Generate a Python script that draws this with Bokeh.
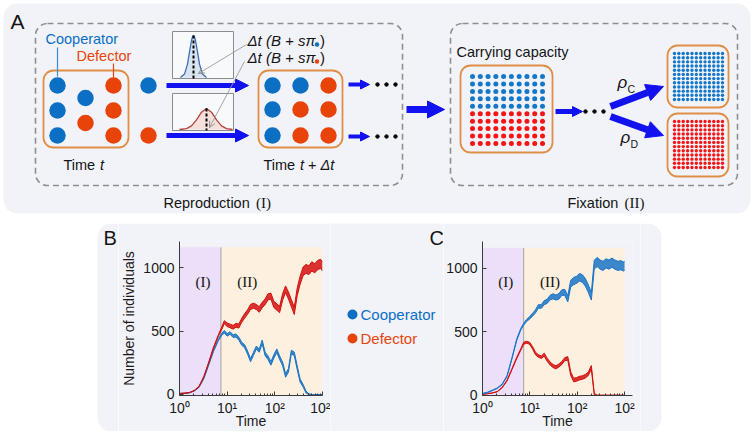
import re
import numpy as np
from bokeh.plotting import figure
from bokeh.layouts import column, row
from bokeh.models import Range1d, Arrow, NormalHead, OpenHead, FixedTicker
from bokeh.core.properties import value
from bokeh.embed import file_html
from bokeh.resources import INLINE

# ---------------- data ----------------
# Panel B
time_b = [1.0, 1.26, 1.6, 2.02, 2.56, 3.24, 4.09, 5.18, 6.55, 7.55, 8.69, 10.0, 11.5, 13.3, 15.3,
          17.6, 20.2, 23.3, 26.8, 30.9, 35.6, 40.9, 47.1, 54.3, 62.5, 71.9, 82.8, 95.4, 110, 126,
          146, 168, 193, 222, 256, 295, 339, 391, 450, 518, 597, 687, 791, 911, 1000]
defectors_b = [8, 10, 15, 30, 62, 140, 250, 370, 465, 515, 570, 550, 540, 530, 545, 540, 585, 620,
               650, 690, 700, 690, 670, 705, 730, 770, 775, 710, 690, 670, 770, 830, 780, 720, 660,
               810, 900, 970, 990, 980, 1010, 995, 1020, 1030, 1010]
defectors_b_spread = [0, 0, 0, 1, 2, 3, 4, 5, 6, 10, 12, 14, 14, 15, 15, 16, 16, 18, 18, 20, 20, 20,
                      22, 22, 22, 24, 24, 24, 25, 25, 26, 26, 28, 28, 30, 30, 32, 34, 35, 35, 36, 36,
                      36, 36, 36]
cooperators_b = [8, 9, 13, 27, 57, 128, 235, 345, 430, 470, 495, 470, 485, 460, 465, 440, 400, 380,
                 330, 270, 320, 370, 345, 415, 320, 290, 245, 300, 345, 290, 240, 150, 190, 335, 320,
                 210, 110, 70, 20, 0, 0, 0, 0, 0, 0]
cooperators_b_spread = [0, 0, 0, 1, 2, 3, 4, 5, 5, 8, 10, 10, 10, 10, 12, 12, 12, 12, 12, 12, 12, 12,
                        12, 14, 14, 14, 14, 14, 14, 14, 14, 14, 14, 14, 14, 14, 12, 10, 8, 5, 0, 0, 0,
                        0, 0]
# Panel C
time_c = [1.0, 1.27, 1.61, 2.04, 2.59, 3.29, 4.18, 5.30, 6.42, 7.41, 8.55, 9.86, 11.4, 13.1, 15.1,
          17.5, 20.1, 23.2, 26.8, 30.9, 35.7, 41.2, 47.5, 54.8, 63.3, 73.0, 84.2, 97.2, 112, 129,
          149, 172, 199, 229, 264, 305, 352, 406, 469, 541, 624, 720, 830, 958, 1000]
cooperators_c = [13, 22, 38, 55, 85, 150, 290, 440, 520, 560, 590, 610, 635, 660, 700, 700, 730,
                 740, 770, 780, 770, 780, 810, 810, 760, 880, 900, 910, 930, 920, 890, 840, 780,
                 1030, 1050, 1030, 1020, 1040, 1030, 1045, 1030, 1020, 1025, 1015, 1020]
cooperators_c_spread = [2, 2, 2, 2, 3, 4, 5, 6, 6, 8, 8, 10, 12, 12, 14, 14, 16, 16, 18, 20, 20, 22,
                        22, 24, 24, 26, 28, 28, 30, 30, 30, 30, 30, 34, 36, 36, 36, 36, 36, 36, 36,
                        36, 36, 36, 36]
defectors_c = [8, 12, 18, 28, 60, 115, 205, 295, 360, 410, 418, 410, 375, 330, 310, 300, 320, 280,
               250, 230, 220, 235, 255, 285, 290, 170, 120, 125, 135, 140, 150, 170, 220, 10, 0, 0,
               0, 0, 0, 0, 0, 0, 0, 0, 0]
defectors_c_spread = [0, 0, 0, 1, 2, 3, 4, 5, 6, 8, 8, 8, 10, 10, 10, 10, 12, 12, 12, 12, 12, 12, 12,
                      12, 14, 14, 14, 14, 14, 14, 14, 14, 14, 5, 0, 0, 0, 0, 0, 0, 0, 0, 0, 0, 0]

phase_switch = 7.4          # end of reproduction phase (I)
phase_top = 1160            # top of shaded phase bands
x_ticks = [1, 10, 100, 1000]
x_tick_labels = ["10⁰", "10¹", "10²", "10²"]
y_ticks = [0, 500, 1000]
legend_labels = ["Cooperator", "Defector"]
phase_labels = ["(I)", "(II)"]

# schematic panel A: individuals at time t and t + dt
group_t_kind = ["C", "C", "C", "C", "D", "D", "D", "D"]
group_t_col = [0, 0, 0, 1, 1, 2, 2, 2]
group_t_row = [0, 1, 2, 0.5, 1.5, 0, 1, 2]
group_dt_kind = ["C", "C", "D", "C", "D", "D", "C", "D", "D"]
capacity_grid = 10          # 10 x 10 individuals, half cooperators
fixation_grid = 12          # 12 x 12 individuals

# ---------------- styling ----------------
BG = "#f2f3f9"
BLUE = "#0b6fc4"
ORANGE_RED = "#e8440a"
DOT_BLUE = "#1577c9"
DOT_RED = "#f41515"
LINE_BLUE = "#1a74c6"
LINE_RED = "#d21010"
BOX = "#df8f45"
ARROW = "#1212f0"
DASH = "#8e8e8e"
PURPLE = "#ecdffa"
PEACH = "#fdf0de"
FONT = "Liberation Sans"
SERIF = "Liberation Serif"


def txt(p, x, y, s, size="14.5px", color="#151515", align="left", font=FONT, style="normal",
        baseline="middle"):
    p.text(x=[x], y=[y], text=[s], text_font=value(font), text_font_size=value(size),
           text_color=color, text_align=align, text_baseline=baseline, text_font_style=style)


def arrow(p, x0, y0, x1, y1, width, head):
    p.add_layout(Arrow(end=NormalHead(size=head, fill_color=ARROW, line_color=ARROW, line_width=1),
                       x_start=x0, y_start=y0, x_end=x1, y_end=y1,
                       line_color=ARROW, line_width=width))


def blank(width, height, x0, y0):
    p = figure(width=width, height=height, x_range=Range1d(x0, x0 + width),
               y_range=Range1d(y0 + height, y0), x_axis_location=None, y_axis_location=None,
               output_backend="svg", toolbar_location=None, min_border=0)
    p.frame_align = False
    p.grid.visible = False
    p.outline_line_color = None
    p.background_fill_color = "white"
    p.border_fill_color = "white"
    return p


# ---------------- panel A ----------------
pa = blank(753, 223, 0, 0)
pa.quad(left=[3], right=[750], top=[3], bottom=[213], fill_color=BG, line_color=None, border_radius=14)
pa.quad(left=[35, 450], right=[402, 737], top=[23, 23], bottom=[185, 185], fill_color=None,
        line_color=DASH, line_width=1.6, line_dash="6 4", border_radius=12)
pa.quad(left=[43, 258, 460, 667, 667], right=[128, 342, 552, 728, 728],
        top=[70, 70, 65, 45, 113], bottom=[147, 147, 152, 107, 176],
        fill_color=None, line_color=BOX, line_width=1.8, border_radius=10)

txt(pa, 10, 21, "A", size="21px")

# time t group
cols = [57, 85, 113]
gx = [cols[c] for c in group_t_col]
gy = [85 + 25 * r for r in group_t_row]
gc = [BLUE if k == "C" else ORANGE_RED for k in group_t_kind]
pa.scatter(gx, gy, size=16.5, color=gc, line_color=None)
pa.segment(x0=[57, 113], y0=[47, 63], x1=[57, 113], y1=[76, 77], line_color=["#3a8ad0", ORANGE_RED],
           line_width=1.2)
txt(pa, 45, 38, "Cooperator", color=BLUE)
txt(pa, 76, 55, "Defector", color=ORANGE_RED)
txt(pa, 63, 164, "Time")
txt(pa, 99.5, 164, "t", style="italic")

# offspring
pa.scatter([148, 148], [85, 135], size=16.5, color=[BLUE, ORANGE_RED], line_color=None)
arrow(pa, 166, 85, 248, 85, 5, 13)
arrow(pa, 166, 135, 248, 135, 5, 13)

# offspring distributions
pa.quad(left=[172, 172], right=[233, 233], top=[31, 93], bottom=[78, 130], fill_color="#f8f9fb",
        line_color="#8c8c8c", line_width=1)
top_curve_x = [180, 184, 187, 189, 191, 192, 193, 194, 195, 197, 199, 202, 206]
top_curve_y = [77, 73.6, 63.6, 51.4, 40, 36.3, 35, 36.3, 40, 51.4, 63.6, 73.6, 77]
bot_curve_x = [179, 186, 191, 196, 201, 206, 211, 216, 221, 226, 232]
bot_curve_y = [129, 128.1, 125.4, 119.4, 111.7, 108, 111.7, 119.4, 125.4, 128.1, 129]
pa.patch(top_curve_x, top_curve_y, fill_color="#d9e4f1", line_color=None)
pa.line(top_curve_x, top_curve_y, line_color="#3c6fb4", line_width=1.3)
pa.patch(bot_curve_x, bot_curve_y, fill_color="#f5e0dc", line_color=None)
pa.line(bot_curve_x, bot_curve_y, line_color="#b3423a", line_width=1.3)
pa.segment(x0=[193, 206], y0=[35, 108], x1=[193, 206], y1=[78, 130], line_color="black",
           line_width=2, line_dash="3 2")
for (xs, ys, xe, ye) in [(246, 44, 198, 73), (244, 61, 209, 127)]:
    pa.add_layout(Arrow(end=OpenHead(size=6, line_color="#8a8a8a", line_width=0.9),
                        x_start=xs, y_start=ys, x_end=xe, y_end=ye, line_color="#9a9a9a",
                        line_width=0.9))
for yy, col in [(40, BLUE), (57, ORANGE_RED)]:
    txt(pa, 247, yy, "Δt (B + sπ", size="15px", style="italic")
    pa.scatter([316.5], [yy + 4], size=4.5, color=col, line_color=None)
    txt(pa, 319.5, yy, ")", size="15px")

# time t + dt group
rx = [272, 300, 328] * 3
ry = [85] * 3 + [109] * 3 + [135] * 3
rc = [BLUE if k == "C" else ORANGE_RED for k in group_dt_kind]
pa.scatter(rx, ry, size=16.5, color=rc, line_color=None)
txt(pa, 263, 164, "Time")
txt(pa, 299.5, 164, "t", style="italic")
txt(pa, 307.5, 164, "+")
txt(pa, 320, 164, "Δt", style="italic")
arrow(pa, 348, 84, 369, 84, 4, 9)
arrow(pa, 348, 136, 369, 136, 4, 9)
pa.scatter([377, 386, 395] * 2, [84] * 3 + [136] * 3, size=3.5, color="black")
txt(pa, 163, 202, "Reproduction")
txt(pa, 255.5, 202, "(I)", font=SERIF, size="15px")

# transition to fixation
arrow(pa, 406, 109, 444, 109, 7, 17)

# carrying capacity
n = capacity_grid
cx, cy = np.meshgrid(np.linspace(472, 542, n), np.linspace(76, 143, n))
ccol = np.where(np.arange(n)[:, None].repeat(n, 1) < n // 2, DOT_BLUE, DOT_RED)
pa.scatter(cx.ravel(), cy.ravel(), size=5, color=list(ccol.ravel()), line_color=None)
txt(pa, 456, 51, "Carrying capacity")
arrow(pa, 555, 111, 582, 111, 5, 10)
pa.scatter([585, 594, 603], [111] * 3, size=3.5, color="black")
arrow(pa, 610, 106, 663, 86, 7, 17)
arrow(pa, 610, 116, 663, 135, 7, 17)
txt(pa, 617, 82, "ρ", size="17px", style="italic")
txt(pa, 627, 88, "C", size="10.5px")
txt(pa, 620, 137, "ρ", size="17px", style="italic")
txt(pa, 630, 143, "D", size="10.5px")

m = fixation_grid
fx, fy = np.meshgrid(np.linspace(674, 722, m), np.linspace(53, 99, m))
pa.scatter(fx.ravel(), fy.ravel(), size=3.4, color=DOT_BLUE, line_color=None)
fx2, fy2 = np.meshgrid(np.linspace(674, 722, m), np.linspace(121, 167, m))
pa.scatter(fx2.ravel(), fy2.ravel(), size=3.4, color=DOT_RED, line_color=None)
txt(pa, 567, 202, "Fixation")
txt(pa, 624, 202, "(II)", font=SERIF, size="15px")

# ---------------- bottom row ----------------
ROW_H = 208
ROW_Y = 223

pl = blank(118, ROW_H, 0, ROW_Y)
pl.quad(left=[97], right=[300], top=[ROW_Y], bottom=[ROW_Y + ROW_H], fill_color=BG, line_color=None,
        border_radius=14)
txt(pl, 103, 237, "B", size="20px")

pr = blank(113, ROW_H, 640, ROW_Y)
pr.quad(left=[400], right=[661], top=[ROW_Y], bottom=[ROW_Y + ROW_H], fill_color=BG,
        line_color=None, border_radius=14)

pg = blank(113, ROW_H, 330, ROW_Y)
pg.background_fill_color = BG
pg.border_fill_color = BG
pg.scatter([352, 352], [314, 338], size=10, color=[BLUE, ORANGE_RED], line_color=None)
txt(pg, 360, 314, legend_labels[0], size="15px", color=BLUE)
txt(pg, 360, 338, legend_labels[1], size="15px", color=ORANGE_RED)
txt(pg, 429, 237, "C", size="20px")

minor = [k * d for d in (1, 10, 100) for k in range(2, 10)]


def panel(width, xmax, ymin, ymax, left_border, ylabel, series, label_y):
    p = figure(width=width, height=ROW_H, x_axis_type="log", x_range=Range1d(1, xmax),
               y_range=Range1d(ymin, ymax), output_backend="svg", toolbar_location=None,
               min_border_left=left_border, min_border_right=8, min_border_top=18,
               min_border_bottom=36)
    p.frame_align = False
    p.background_fill_color = BG
    p.border_fill_color = BG
    p.outline_line_color = None
    p.grid.visible = False
    p.quad(left=[1, phase_switch], right=[phase_switch, 1000], bottom=[ymin, ymin],
           top=[phase_top, phase_top], fill_color=[PURPLE, PEACH], line_color=None)
    p.segment(x0=[phase_switch], y0=[ymin], x1=[phase_switch], y1=[phase_top],
              line_color="#a3a3a3", line_width=1)
    p.text(x=[3.1, 26.5], y=[label_y, label_y], text=phase_labels, text_font=value(SERIF),
           text_font_size=value("15px"), text_align="center", text_baseline="middle",
           text_color="#111111")
    for t, mid, spread, color in series:
        mid = np.array(mid, dtype=float)
        spread = np.array(spread, dtype=float)
        lo = np.clip(mid - spread, 0, None)
        hi = mid + spread
        p.varea(x=t, y1=lo, y2=hi, fill_color=color, fill_alpha=0.85)
        p.line(t, lo, line_color=color, line_width=1)
        p.line(t, hi, line_color=color, line_width=1)
    p.xaxis.ticker = FixedTicker(ticks=x_ticks, minor_ticks=minor)
    p.xaxis.major_label_overrides = dict(zip(x_ticks, x_tick_labels))
    p.yaxis.ticker = FixedTicker(ticks=y_ticks)
    p.xaxis.axis_label = "Time"
    p.xaxis.axis_label_standoff = -6
    p.xaxis.major_label_standoff = 4
    p.yaxis.major_label_standoff = 5
    if ylabel:
        p.yaxis.axis_label = ylabel
        p.yaxis.axis_label_standoff = 3
    for ax in (p.xaxis, p.yaxis):
        ax.axis_line_color = "#3a3a3a"
        ax.major_tick_line_color = "#3a3a3a"
        ax.minor_tick_line_color = "#3a3a3a"
        ax.major_tick_in = 4
        ax.major_tick_out = 0
        ax.minor_tick_in = 2
        ax.minor_tick_out = 0
        ax.major_label_text_font = FONT
        ax.major_label_text_font_size = "14px"
        ax.major_label_text_color = "#1a1a1a"
        ax.axis_label_text_font = FONT
        ax.axis_label_text_font_size = "14px"
        ax.axis_label_text_font_style = "normal"
        ax.axis_label_text_color = "#1a1a1a"
    return p


pb = panel(212, 1000, -8, 1206, 57, "Number of individuals",
           [(time_b, cooperators_b, cooperators_b_spread, LINE_BLUE),
            (time_b, defectors_b, defectors_b_spread, LINE_RED)], 883)
pc = panel(197, 1472, -2, 1212, 36, None,
           [(time_c, defectors_c, defectors_c_spread, LINE_RED),
            (time_c, cooperators_c, cooperators_c_spread, LINE_BLUE)], 889)

layout = column(pa, row(pl, pb, pg, pc, pr, spacing=0), spacing=0)
html = file_html(layout, INLINE, title="chart")
html = re.sub(r"<body[^>]*>", '<body style="margin:0;padding:0;overflow:hidden;background:#ffffff">',
              html, count=1)
open("out.html", "w").write(html)
